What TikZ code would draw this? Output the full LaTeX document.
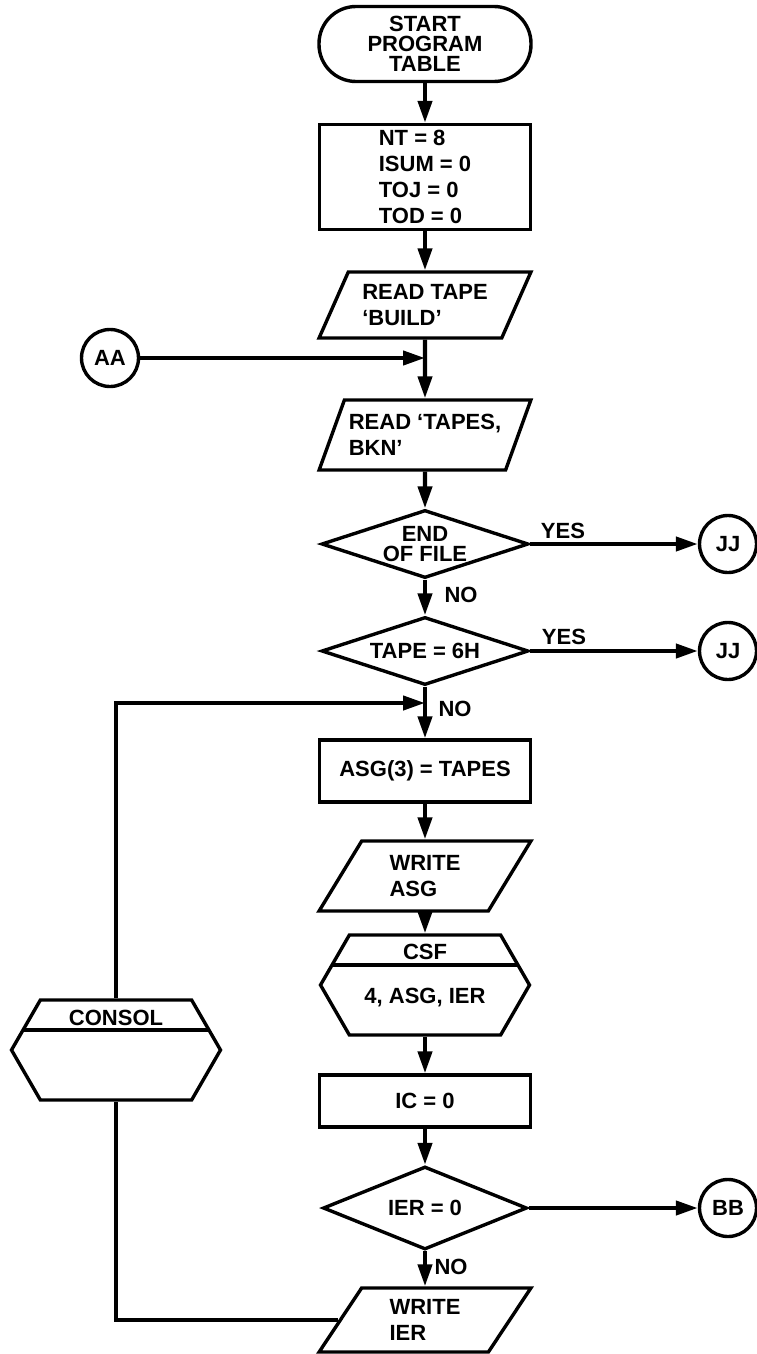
\documentclass[tikz,border=0pt]{standalone}
\usepackage{fontspec}
\setmainfont{Liberation Sans}
\usetikzlibrary{shapes.geometric,shapes.symbols,arrows.meta}

\begin{document}
\begin{tikzpicture}[x=1pt, y=-1pt,
  every node/.style={font=\fontsize{22}{26}\selectfont\bfseries, inner sep=0pt},
  shapeline/.style={draw, line width=3.4pt},
  terminal/.style={shapeline, rectangle, rounded corners=37pt, minimum width=212pt, minimum height=75pt, align=center, font=\fontsize{22}{20}\selectfont\bfseries},
  process/.style={shapeline, rectangle, minimum width=211pt, align=left},
  iobox/.style={shapeline, trapezium, trapezium left angle=60, trapezium right angle=120, trapezium stretches=true, minimum width=212pt, minimum height=66pt, align=left},
  decision/.style={shapeline, diamond, aspect=3, minimum width=207pt, minimum height=68pt, align=center, font=\fontsize{22}{20}\selectfont\bfseries},
  connector/.style={shapeline, circle, minimum size=57pt},
  subroutine/.style={shapeline, signal, signal to=east and west, signal pointer angle=120, minimum width=209pt, minimum height=100pt,
    path picture={\draw[line width=3.4pt] ([yshift=-30pt]path picture bounding box.north west) -- ([yshift=-30pt]path picture bounding box.north east);}},
  flow/.style={line width=4.2pt, -{Triangle[length=22pt,width=14pt]}},
  plain/.style={line width=4.2pt}]
  \useasboundingbox (0,0) rectangle (757,1354);

  \node[terminal] (start) at (425,44) {START\\PROGRAM\\TABLE};
  \node[process, minimum height=105pt] (init) at (425,177) {NT = 8\\ISUM = 0\\TOJ = 0\\TOD = 0};
  \node[iobox] (readbuild) at (425,305) {READ TAPE\\‘BUILD’};
  \node[connector] (aa) at (110,358) {AA};
  \coordinate (aajoin) at (425,358);
  \node[iobox, minimum height=70pt] (readtapes) at (425,435) {READ ‘TAPES,\\BKN’};
  \node[decision] (eof) at (425,544) {END\\OF FILE};
  \node[connector] (jj1) at (728,544) {JJ};
  \node[decision] (tape) at (425,651) {TAPE = 6H};
  \node[connector] (jj2) at (728,651) {JJ};
  \coordinate (loopin) at (425,703);
  \node[process, minimum height=62pt] (asg) at (425,771) {ASG(3) = TAPES};
  \node[iobox, minimum height=70pt] (writeasg) at (425,876) {WRITE\\ASG};
  \node[subroutine] (csf) at (425,985) {};
  \node (csfname) at (425,952) {CSF};
  \node (csfargs) at (425,998) {4, ASG, IER};
  \node[process, minimum height=52pt] (ic) at (425,1101) {IC = 0};
  \node[decision, minimum height=83pt, minimum width=204pt] (ier) at (425,1208) {IER = 0};
  \node[connector] (bb) at (728,1208) {BB};
  \node[iobox, minimum height=64pt] (writeier) at (425,1320) {WRITE\\IER};
  \node[subroutine] (consol) at (116,1050) {};
  \node (consolname) at (116,1018) {CONSOL};

  \node (yes1) at (563,531) {YES};
  \node (no1) at (461,595) {NO};
  \node (yes2) at (564,637) {YES};
  \node (no2) at (455,709) {NO};
  \node (no3) at (451,1267) {NO};

  \draw[flow] (start) -- (init);
  \draw[flow] (init) -- (readbuild);
  \draw[flow] (readbuild) -- (readtapes);
  \draw[flow] (aa) -- (aajoin);
  \draw[flow] (readtapes) -- (eof);
  \draw[flow] (eof) -- (jj1);
  \draw[flow] (eof) -- (tape);
  \draw[flow] (tape) -- (jj2);
  \draw[flow] (tape) -- (asg);
  \draw[flow] (asg) -- (writeasg);
  \draw[flow] (writeasg) -- (csf);
  \draw[flow] (csf) -- (ic);
  \draw[flow] (ic) -- (ier);
  \draw[flow] (ier) -- (bb);
  \draw[flow] (ier) -- (writeier);
  \draw[plain] (writeier.west) -| (consol);
  \draw[flow] (consol) |- (loopin);
\end{tikzpicture}
\end{document}
